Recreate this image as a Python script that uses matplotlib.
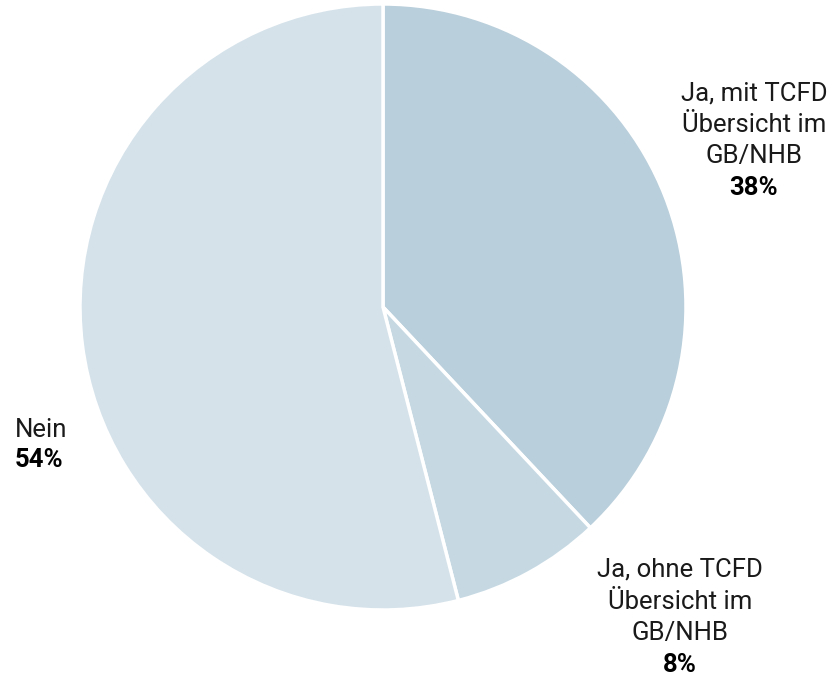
import matplotlib
matplotlib.use("Agg")
import matplotlib.pyplot as plt

labels = ["Ja, mit TCFD\nÜbersicht im\nGB/NHB", "Ja, ohne TCFD\nÜbersicht im\nGB/NHB", "Nein"]
values = [38, 8, 54]
colors = ["#b9cfdb", "#c6d9e3", "#d5e2ea"]

plt.rcParams['font.family'] = ['Roboto', 'DejaVu Sans']

W, H = 835, 678
fig = plt.figure(figsize=(W / 100, H / 100), dpi=100)
cx, cy, r = 383, 307, 303
ax = fig.add_axes([(cx - r) / W, (H - cy - r) / H, 2 * r / W, 2 * r / H])
ax.pie(values, colors=colors, startangle=90, counterclock=False,
       wedgeprops=dict(edgecolor="white", linewidth=2.5))
ax.set_xlim(-1, 1)
ax.set_ylim(-1, 1)
ax.axis("off")

fs = 18.5
txt = "#1a1a1a"
# label anchor in pixels: x, baseline of first line, alignment, line step
pos = [(754, 100, "center", 31.7), (680, 577, "center", 31.7), (15, 437, "left", 30)]
for (x, y, ha, step), lab, v in zip(pos, labels, values):
    lines = lab.split("\n") + [f"{v}%"]
    for i, line in enumerate(lines):
        bold = i == len(lines) - 1
        fig.text(x / W, 1 - (y + i * step) / H, line, ha=ha, va="baseline",
                 fontsize=fs, color="black" if bold else txt,
                 fontweight="bold" if bold else "normal")

fig.savefig("out.png", dpi=100)
